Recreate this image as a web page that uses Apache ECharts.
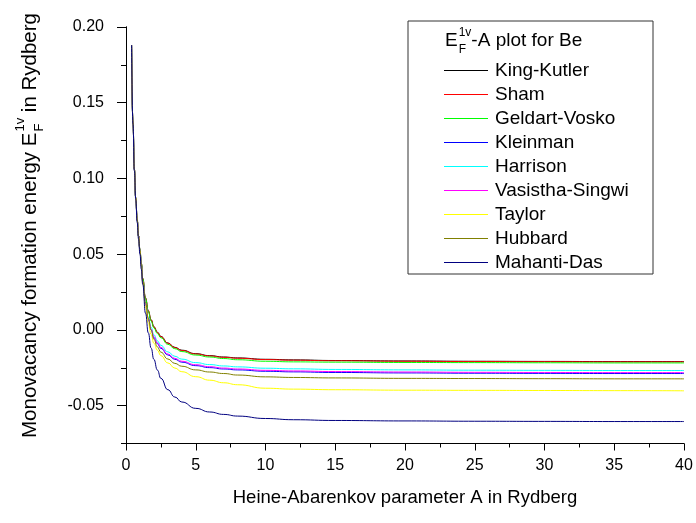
<!DOCTYPE html>
<html>
<head>
<meta charset="utf-8">
<script src="https://cdn.jsdelivr.net/npm/echarts@6/dist/echarts.min.js"></script>
<style>
html, body { margin: 0; padding: 0; background: #fff; }
#chart { width: 696px; height: 523px; }
</style>
</head>
<body>
<div id="chart"></div>
<script>
// Heine-Abarenkov parameter A (Rydberg)
const paramA = [0.4, 0.5, 0.6, 0.7, 0.8, 0.9, 1.0, 1.1, 1.2, 1.4, 1.6, 1.8, 2.0, 2.25, 2.5, 3, 3.5, 4, 5, 6, 7, 8, 10, 12, 15, 20, 25, 30, 35, 40];

// monovacancy formation energy (Rydberg)
const kingKutler = [0.188, 0.137, 0.106, 0.087, 0.073, 0.062, 0.053, 0.044, 0.034, 0.021, 0.0126, 0.0067, 0.0022, -0.0015, -0.0043, -0.0086, -0.0115, -0.0134, -0.0157, -0.0170, -0.0179, -0.0185, -0.0194, -0.0198, -0.0202, -0.0205, -0.0207, -0.0208, -0.0209, -0.0209];
const sham = [0.188, 0.137, 0.106, 0.087, 0.073, 0.062, 0.053, 0.044, 0.034, 0.021, 0.0125, 0.0065, 0.002, -0.0017, -0.0045, -0.0088, -0.0117, -0.0136, -0.0159, -0.0172, -0.0181, -0.0187, -0.0196, -0.0200, -0.0204, -0.0207, -0.0209, -0.0210, -0.0211, -0.0211];
const geldartVosko = [0.188, 0.137, 0.106, 0.087, 0.073, 0.062, 0.053, 0.044, 0.0338, 0.0206, 0.012, 0.0058, 0.0013, -0.0024, -0.0052, -0.0095, -0.0124, -0.0143, -0.0166, -0.0179, -0.0189, -0.0197, -0.0207, -0.0211, -0.0213, -0.0215, -0.0216, -0.0217, -0.0218, -0.0218];
const kleinman = [0.188, 0.137, 0.106, 0.087, 0.073, 0.062, 0.0522, 0.0425, 0.0317, 0.0168, 0.0067, 0.0, -0.0051, -0.0091, -0.0122, -0.0165, -0.0194, -0.0213, -0.0236, -0.0249, -0.0258, -0.0264, -0.0273, -0.0277, -0.0281, -0.0284, -0.0286, -0.0287, -0.0288, -0.0288];
const harrison = [0.188, 0.137, 0.106, 0.087, 0.073, 0.062, 0.0524, 0.0429, 0.0323, 0.0179, 0.0082, 0.0017, -0.0032, -0.0072, -0.0102, -0.0145, -0.0174, -0.0193, -0.0216, -0.0229, -0.0238, -0.0244, -0.0253, -0.0257, -0.0261, -0.0264, -0.0266, -0.0267, -0.0268, -0.0268];
const vasisthaSingwi = [0.188, 0.137, 0.106, 0.087, 0.073, 0.062, 0.0523, 0.0426, 0.0319, 0.0171, 0.0072, 0.0005, -0.0045, -0.0085, -0.0116, -0.0159, -0.0188, -0.0207, -0.0230, -0.0243, -0.0252, -0.0258, -0.0267, -0.0271, -0.0275, -0.0278, -0.0280, -0.0281, -0.0282, -0.0282];
const taylor = [0.188, 0.137, 0.106, 0.087, 0.073, 0.0615, 0.052, 0.042, 0.031, 0.015, 0.0045, -0.003, -0.0088, -0.0134, -0.017, -0.0218, -0.0252, -0.0276, -0.0309, -0.0332, -0.0349, -0.0362, -0.0385, -0.0391, -0.0395, -0.0398, -0.0399, -0.0400, -0.0401, -0.0402];
const hubbard = [0.188, 0.137, 0.106, 0.087, 0.073, 0.062, 0.0525, 0.0431, 0.0325, 0.018, 0.0077, 0.0, -0.0062, -0.0112, -0.0147, -0.0192, -0.0221, -0.024, -0.0264, -0.0278, -0.0288, -0.0298, -0.031, -0.0314, -0.0317, -0.032, -0.0321, -0.0322, -0.0323, -0.0323];
const mahantiDas = [0.188, 0.136, 0.105, 0.086, 0.071, 0.060, 0.050, 0.040, 0.030, 0.011, -0.002, -0.012, -0.0195, -0.0265, -0.032, -0.0395, -0.0443, -0.0476, -0.0518, -0.0542, -0.0558, -0.0569, -0.0585, -0.0593, -0.0598, -0.0601, -0.0603, -0.0604, -0.0605, -0.0605];

const seriesDefs = [
  { name: "King-Kutler", color: "#000000", values: kingKutler },
  { name: "Sham", color: "#ff0000", values: sham },
  { name: "Geldart-Vosko", color: "#00ff00", values: geldartVosko },
  { name: "Kleinman", color: "#0000ff", values: kleinman },
  { name: "Harrison", color: "#00ffff", values: harrison },
  { name: "Vasistha-Singwi", color: "#ff00ff", values: vasisthaSingwi },
  { name: "Taylor", color: "#ffff00", values: taylor },
  { name: "Hubbard", color: "#808000", values: hubbard },
  { name: "Mahanti-Das", color: "#000080", values: mahantiDas },
];

const FONT = "'Liberation Sans', Arial, sans-serif";
const measureCtx = document.createElement("canvas").getContext("2d");
function textWidth(str, size) {
  measureCtx.font = size + "px 'Liberation Sans', Arial, sans-serif";
  return measureCtx.measureText(str).width;
}

// text like "E_F^1v" needs stacked sub/superscript, so build it by hand
function energyLabel(before, after, size, small, centered) {
  const w1 = textWidth(before, size);
  const ws = textWidth("1v", small);
  const w2 = textWidth(after, size);
  const x0 = centered ? -(w1 + ws + w2) / 2 : 0;
  const base = { fill: "#000", fontFamily: FONT, align: "left", verticalAlign: "middle" };
  return [
    { type: "text", z: 10, x: x0, y: 0, style: { ...base, text: before, fontSize: size } },
    { type: "text", z: 10, x: x0 + w1 + 1, y: size * 0.45, style: { ...base, text: "F", fontSize: small } },
    { type: "text", z: 10, x: x0 + w1 + 1, y: -size * 0.45, style: { ...base, text: "1v", fontSize: small } },
    { type: "text", z: 10, x: x0 + w1 + ws + 1, y: 0, style: { ...base, text: after, fontSize: size } },
  ];
}

const chart = echarts.init(document.getElementById("chart"));
chart.setOption({
  animation: false,
  backgroundColor: "#fff",
  grid: [
    { left: 126, right: 12, top: 27, bottom: 79.5 },
    { left: 126, right: 12, top: 27, bottom: 117.4 },
  ],
  legend: {
    orient: "vertical",
    left: 439,
    top: 56,
    icon: "rect",
    itemWidth: 44,
    itemHeight: 1,
    itemGap: 5,
    selectedMode: false,
    textStyle: { fontSize: 19, color: "#000", fontFamily: FONT, padding: [0, 0, 0, 2] },
    data: seriesDefs.map((s) => s.name),
  },
  xAxis: [
    {
      gridIndex: 0,
      type: "value",
      min: 0,
      max: 40,
      interval: 5,
      axisLine: { onZero: false, lineStyle: { color: "#000", width: 1 } },
      axisTick: { length: 7, lineStyle: { color: "#000" } },
      minorTick: { show: true, splitNumber: 2, length: 4, lineStyle: { color: "#000" } },
      splitLine: { show: false },
      axisLabel: { fontSize: 16, color: "#000", margin: 14, fontFamily: FONT },
      name: "Heine-Abarenkov parameter A in Rydberg",
      nameLocation: "middle",
      nameGap: 45,
      nameTextStyle: { fontSize: 18.5, color: "#000", fontFamily: FONT },
    },
    { gridIndex: 1, type: "value", min: 0, max: 40, show: false },
  ],
  yAxis: [
    {
      gridIndex: 0,
      type: "value",
      min: -0.075,
      max: 0.2,
      interval: 0.025,
      axisLine: { show: true, lineStyle: { color: "#000", width: 1 } },
      axisTick: { length: 5, lineStyle: { color: "#000" } },
      axisLabel: { show: false },
      splitLine: { show: false },
    },
    {
      gridIndex: 1,
      type: "value",
      min: -0.05,
      max: 0.2,
      interval: 0.05,
      axisLine: { show: true, lineStyle: { color: "#000", width: 1 } },
      axisTick: { length: 9, lineStyle: { color: "#000" } },
      axisLabel: {
        fontSize: 16,
        color: "#000",
        margin: 22,
        fontFamily: FONT,
        formatter: (v) => v.toFixed(2),
      },
      splitLine: { show: false },
    },
  ],
  graphic: [
    {
      type: "rect",
      z: 1,
      shape: { x: 408, y: 21, width: 245, height: 253 },
      style: { fill: "#fff", stroke: "#333", lineWidth: 1 },
    },
    { type: "group", x: 445, y: 41, children: energyLabel("E", "-A plot for Be", 19, 12, false) },
    {
      type: "group",
      x: 30,
      y: 226,
      rotation: Math.PI / 2,
      children: energyLabel("Monovacancy formation energy E", " in Rydberg", 20.5, 13, true),
    },
  ],
  series: seriesDefs.map((s) => ({
    name: s.name,
    type: "line",
    xAxisIndex: 0,
    yAxisIndex: 0,
    symbol: "none",
    smooth: true,
    smoothMonotone: "x",
    color: s.color,
    lineStyle: { color: s.color, width: 1 },
    data: paramA.map((a, i) => [a, s.values[i]]),
  })),
});
</script>
</body>
</html>
